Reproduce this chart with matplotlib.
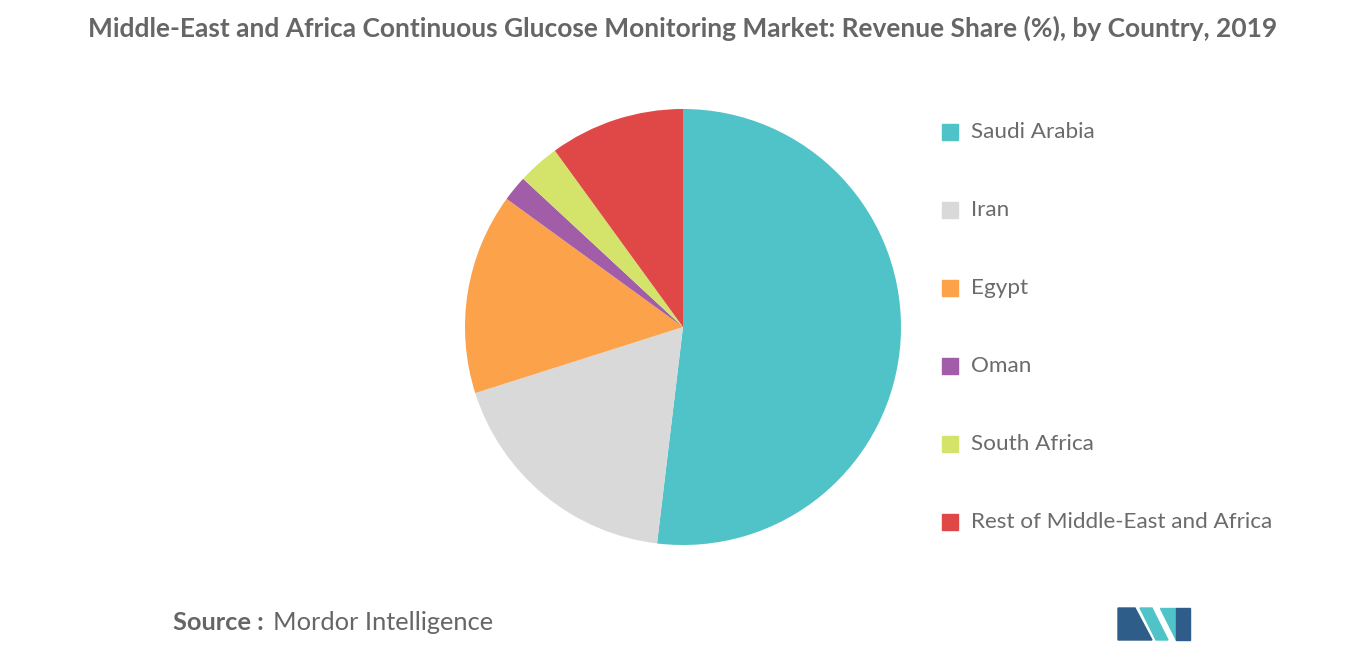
import matplotlib.pyplot as plt
from matplotlib.patches import Rectangle, Polygon

countries = ['Saudi Arabia', 'Iran', 'Egypt', 'Oman', 'South Africa',
             'Rest of Middle-East and Africa']
shares = [51.9, 18.2, 14.9, 1.9, 3.1, 10.0]
colors = ['#4FC3C8', '#D9D9D9', '#FBA24A', '#A25DA8', '#D4E46B', '#E04848']

W, H = 1366, 655
fig = plt.figure(figsize=(W / 100, H / 100), dpi=100)

r = 218
ax = fig.add_axes([(683 - r) / W, (H - 327 - r) / H, 2 * r / W, 2 * r / H])
ax.pie(shares, colors=colors, startangle=90, counterclock=False,
       wedgeprops=dict(linewidth=0), frame=False)
ax.set_xlim(-1, 1)
ax.set_ylim(-1, 1)
ax.set_aspect('equal')
ax.axis('off')

fig.text(683 / W, 1 - 28 / H,
         'Middle-East and Africa Continuous Glucose Monitoring Market: Revenue Share (%), by Country, 2019',
         ha='center', va='center', fontsize=19, fontweight='bold', color='#666666',
         family='Lato')

for i, (name, c) in enumerate(zip(countries, colors)):
    y = 1 - (132 + 78 * i) / H
    fig.patches.append(Rectangle((942 / W, y - 8 / H), 16 / W, 16 / H,
                                 transform=fig.transFigure, color=c))
    fig.text(971 / W, y, name, ha='left', va='center', fontsize=16.2,
             color='#6b6b6b', family='Lato')

fig.text(173 / W, 1 - 623 / H, 'Source :', ha='left', va='center', fontsize=18.3,
         fontweight='bold', color='#666666', family='Lato')
fig.text(273 / W, 1 - 623 / H, 'Mordor Intelligence', ha='left', va='center',
         fontsize=18.3, color='#666666', family='Lato')

# logo
def poly(pts, c):
    fig.patches.append(Polygon([(x / W, 1 - y / H) for x, y in pts], closed=True,
                               transform=fig.transFigure, color=c))
poly([(1118, 640), (1118, 608), (1135, 608), (1152, 640)], '#2E5D8A')
poly([(1140, 608), (1152, 608), (1168, 640), (1156, 640)], '#4FC3C8')
poly([(1160, 608), (1176, 608), (1176, 640)], '#4FC3C8')
poly([(1176, 608), (1190, 608), (1190, 640), (1176, 640)], '#2E5D8A')

fig.savefig('out.png', dpi=100)
